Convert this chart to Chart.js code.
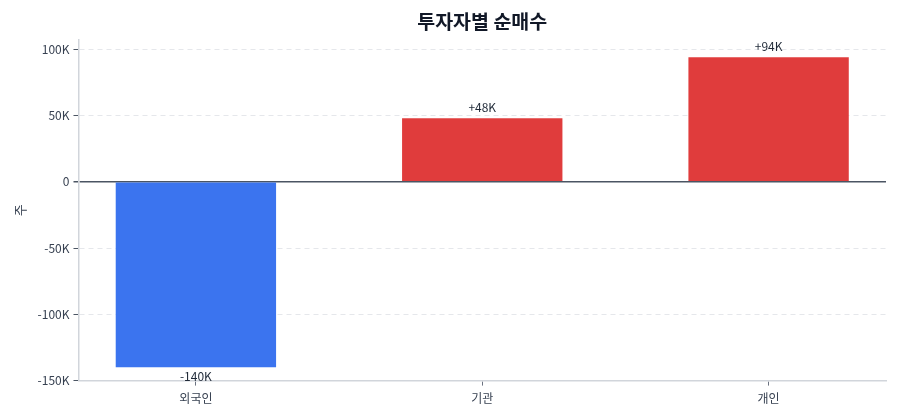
<!DOCTYPE html>
<html>
<head>
<meta charset="utf-8">
<script src="https://cdn.jsdelivr.net/npm/chart.js@4.4.1/dist/chart.umd.min.js"></script>
<style>
  html, body { margin: 0; padding: 0; background: #fff; }
  #wrap { width: 900px; height: 420px; }
</style>
</head>
<body>
<div id="wrap"><canvas id="myChart"></canvas></div>
<script>
const investors = ['외국인', '기관', '개인'];
const netBuy = [-140000, 48000, 94000];
const labels = ['-140K', '+48K', '+94K'];
const yTicks = [-150000, -100000, -50000, 0, 50000, 100000];
const chartTitle = '투자자별 순매수';

const FONT = "'Noto Sans CJK KR', 'Noto Sans', sans-serif";

// bar value text, above for positive, below for negative
const valueLabels = {
  id: 'valueLabels',
  afterDatasetsDraw(chart) {
    const c = chart.ctx;
    const meta = chart.getDatasetMeta(0);
    c.save();
    c.font = '12px ' + FONT;
    c.fillStyle = '#1f2937';
    c.textAlign = 'center';
    meta.data.forEach((bar, i) => {
      if (netBuy[i] >= 0) {
        c.textBaseline = 'bottom';
        c.fillText(labels[i], bar.x, bar.y - 5);
      } else {
        c.textBaseline = 'top';
        c.fillText(labels[i], bar.x, bar.y + 3);
      }
    });
    c.restore();
  }
};

// title centred over the plot area, not the whole canvas
const areaTitle = {
  id: 'areaTitle',
  afterDraw(chart) {
    const c = chart.ctx;
    const a = chart.chartArea;
    c.save();
    c.font = 'bold 19.5px ' + FONT;
    c.fillStyle = '#111827';
    c.textAlign = 'center';
    c.textBaseline = 'middle';
    c.fillText(chartTitle, (a.left + a.right) / 2, 22);
    c.restore();
  }
};

new Chart(document.getElementById('myChart'), {
  type: 'bar',
  data: {
    datasets: [{
      data: netBuy.map((v, i) => ({ x: i, y: v })),
      backgroundColor: netBuy.map(v => v < 0 ? '#3b74ef' : '#e03c3c'),
      borderWidth: 0,
      categoryPercentage: 1.0,
      barPercentage: 0.56
    }]
  },
  options: {
    responsive: true,
    maintainAspectRatio: false,
    animation: false,
    layout: { padding: { left: 8, right: 14, top: 40, bottom: 8 } },
    plugins: {
      legend: { display: false },
      tooltip: { enabled: false },
      title: { display: false }
    },
    scales: {
      x: {
        type: 'linear',
        offset: false,
        min: -0.41,
        max: 2.41,
        afterBuildTicks(axis) {
          axis.ticks = investors.map((n, i) => ({ value: i }));
        },
        grid: { offset: false, drawOnChartArea: false, drawTicks: true, tickLength: 5, color: '#6b7280' },
        border: { color: '#d1d5db', width: 1.5 },
        ticks: {
          color: '#374151',
          font: { family: FONT, size: 12 },
          padding: 6,
          callback: v => investors[v]
        }
      },
      y: {
        min: -150000,
        max: 107000,
        afterBuildTicks(axis) {
          axis.ticks = yTicks.map(v => ({ value: v }));
        },
        grid: {
          color: ctx => ctx.tick && ctx.tick.value === 0 ? '#4b5563' : '#e5e7eb',
          lineWidth: ctx => ctx.tick && ctx.tick.value === 0 ? 1.5 : 1,
          tickColor: '#4b5563',
          tickLength: 5,
          tickBorderDash: [],
          drawTicks: true
        },
        border: {
          color: '#d1d5db',
          width: 1.5,
          dash: ctx => (ctx.tick && ctx.tick.value !== 0) ? [5, 4] : []
        },
        ticks: {
          color: '#374151',
          font: { family: FONT, size: 12 },
          padding: 4,
          callback: v => v === 0 ? '0' : (v / 1000) + 'K'
        },
        title: {
          display: true,
          text: '주',
          color: '#374151',
          font: { family: FONT, size: 13 },
          padding: { bottom: 6 }
        }
      }
    }
  },
  plugins: [valueLabels, areaTitle]
});
</script>
</body>
</html>
